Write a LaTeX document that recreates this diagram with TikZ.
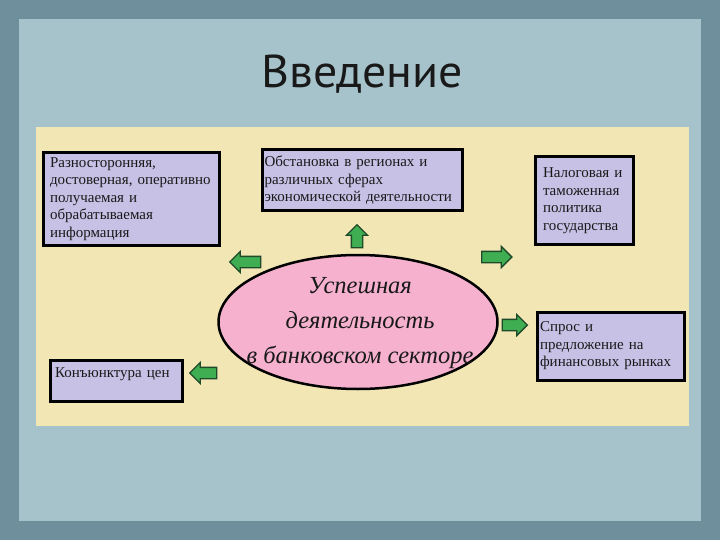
\documentclass[tikz,border=0pt]{standalone}
\usepackage{fontspec}
\setmainfont{Liberation Serif}
\newfontfamily\titlefont{PT Sans}
\usetikzlibrary{shapes.arrows,shapes.geometric}
\definecolor{outerbg}{HTML}{6E8F9B}
\definecolor{innerbg}{HTML}{A6C3CC}
\definecolor{panel}{HTML}{F2E6B5}
\definecolor{lav}{HTML}{C7C1E6}
\definecolor{pinkfill}{HTML}{F5B1CD}
\definecolor{arrgreen}{HTML}{3FAE52}
\definecolor{arrdark}{HTML}{1F4A2A}
\tikzset{
  infobox/.style={draw=black, line width=3pt, fill=lav, align=left,
    font=\fontsize{15}{17.5}\selectfont, text=black!90, inner ysep=2pt},
  greenarrow/.style={single arrow, draw=arrdark, line width=1.3pt, fill=arrgreen,
    single arrow head extend=5pt, inner sep=5pt},
}
\begin{document}
\begin{tikzpicture}[x=1pt,y=-1pt]
\useasboundingbox (0,0) rectangle (720,540);
\fill[outerbg] (0,0) rectangle (720,540);
\fill[innerbg] (19,19) rectangle (701,521);
\fill[panel] (36,127) rectangle (689,426);

\node[font=\titlefont\fontsize{46}{50}\selectfont, text=black!90] (title) at (362,74) {\scalebox{1.04}[1]{Введение}};

\node[infobox, minimum width=176pt, minimum height=92pt, text width=162pt, inner xsep=7pt] (b1) at (131,199)
  {Разносторонняя,\\достоверная, оперативно\\получаемая и\\обрабатываемая\\информация};
\node[infobox, minimum width=200pt, minimum height=61pt, text width=195pt, inner xsep=2.5pt] (b2) at (362,180.5)
  {Обстановка в регионах и\\различных сферах\\экономической деятельности};
\node[infobox, minimum width=98pt, minimum height=87pt, text width=82pt, inner xsep=8pt] (b3) at (584,200.5)
  {Налоговая и\\таможенная\\политика\\государства};
\node[infobox, minimum width=132pt, minimum height=41pt, text width=122pt, inner xsep=5pt, text depth=15pt] (b4) at (116,380.5)
  {Конъюнктура цен};
\node[infobox, minimum width=147pt, minimum height=68pt, text width=141pt, inner xsep=3pt] (b5) at (610.5,346)
  {Спрос и\\предложение на\\финансовых рынках};

\node[ellipse, draw=black, line width=2.5pt, fill=pinkfill, minimum width=279pt, minimum height=134pt] (ell) at (358,322) {};
\node[font=\itshape\fontsize{24.5}{35}\selectfont, align=center, text=black!90] (elltext) at (360,323)
  {Успешная\\деятельность\\в банковском секторе};

\node[greenarrow, shape border rotate=90, minimum height=23pt] (aup) at (357,239) {};
\node[greenarrow, shape border rotate=180, minimum height=31pt] (al1) at (248,262) {};
\node[greenarrow, minimum height=30pt] (ar1) at (494,257) {};
\node[greenarrow, minimum height=25pt] (ar2) at (512,325) {};
\node[greenarrow, shape border rotate=180, minimum height=27pt] (al2) at (206,373) {};
\end{tikzpicture}
\end{document}
